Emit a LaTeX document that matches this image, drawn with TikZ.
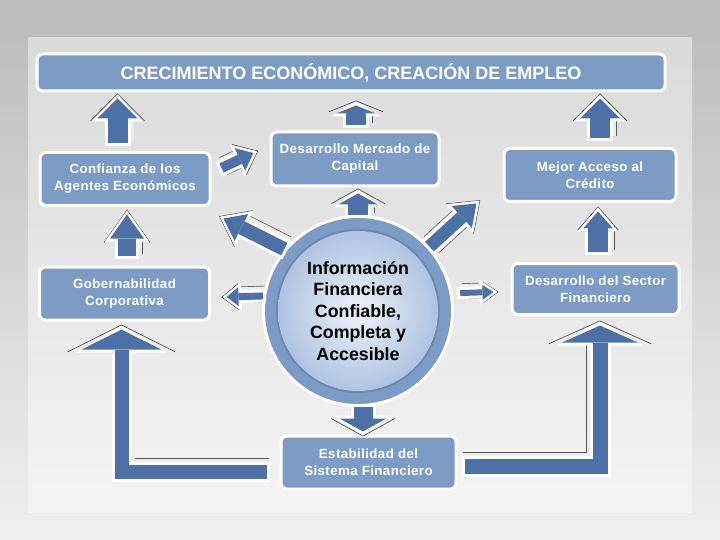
\documentclass[tikz,border=0pt]{standalone}
\usepackage{fontspec}
\setmainfont{Liberation Sans}
\newfontfamily\boxfont[LetterSpace=3]{Liberation Sans}
\usepackage{tikz}
\usetikzlibrary{arrows.meta, positioning, calc}

\definecolor{boxblue}{HTML}{7C9CC6}
\definecolor{arrowblue}{HTML}{4D71A6}
\definecolor{ringblue}{HTML}{7E9BC5}
\definecolor{ringdark}{HTML}{6A89B6}
\definecolor{innerlight}{HTML}{EEF3FA}
\definecolor{innerdark}{HTML}{AFC3E0}
\definecolor{shadowgray}{HTML}{555555}
\definecolor{panel}{HTML}{ECECEC}
\definecolor{bgtop}{HTML}{BBBBBB}
\definecolor{bgbot}{HTML}{F0F0F0}
\definecolor{paneltop}{HTML}{DADADA}
\definecolor{panelbot}{HTML}{F4F4F4}

\def\blkdx{2pt}

\begin{document}
\begin{tikzpicture}[x=1pt, y=-1pt,
  box/.style={draw=white, line width=3pt, fill=boxblue, rounded corners=6pt,
    text=white, align=center, inner sep=0pt,
    font=\boxfont\fontsize{13.3}{17}\selectfont\bfseries},
  flipshadow/.style={/utils/exec={\def\blkdx{-2pt}}},
  blk/.style n args={3}{% shaft, head width, head length
    /utils/exec={\pgfmathsetmacro\blkw{#1+6}\pgfmathsetmacro\blkgap{#1+8}%
      \pgfmathsetmacro\blkhw{#2+10}\pgfmathsetmacro\blkhl{#3+7}%
      \pgfmathsetmacro\blksw{1.35*#2}\pgfmathsetmacro\blksl{1.35*#3}},
    preaction={draw=shadowgray, line width=0.7pt, double=panel,
      double distance=\blkgap pt, -, shorten >=#3pt,
      transform canvas={shift={(\blkdx,2pt)}}},
    preaction={draw=shadowgray, line width=0.7pt,
      -{Straight Barb[width=\blksw pt, length=\blksl pt, line width=0.7pt]},
      shorten >=-5pt},
    preaction={draw=white, line width=\blkw pt,
      -{Triangle[width=\blkhw pt, length=\blkhl pt, line width=0pt]},
      shorten >=-4pt, shorten <=-3pt},
    draw=arrowblue, line width=#1pt,
    -{Triangle[width=#2pt, length=#3pt, line width=0pt]}}]
  \useasboundingbox (0,0) rectangle (720,540);
  % Background
  \shade[top color=bgtop, bottom color=bgbot] (0,0) rectangle (720,540);
  \shade[top color=paneltop, bottom color=panelbot] (28,38) rectangle (692,512);

  % Boxes
  \node[box, minimum width=628pt, minimum height=37pt,
    font=\fontsize{18}{20}\selectfont\bfseries] (top) at (351,72.5)
    {CRECIMIENTO ECONÓMICO, CREACIÓN DE EMPLEO};
  \node[box, minimum width=170pt, minimum height=53pt] (conf) at (125,179)
    {Confianza de los\\Agentes Económicos};
  \node[box, minimum width=170pt, minimum height=53pt] (gob) at (124.5,293.5)
    {Gobernabilidad\\Corporativa};
  \node[box, minimum width=168pt, minimum height=54pt] (merc) at (355,159)
    {Desarrollo Mercado de\\Capital};
  \node[box, minimum width=172pt, minimum height=53pt] (mejor) at (590,175)
    {Mejor Acceso al\\Crédito};
  \node[box, minimum width=167pt, minimum height=51pt] (sector) at (595.5,289)
    {Desarrollo del Sector\\Financiero};
  \node[box, minimum width=175pt, minimum height=53pt] (estab) at (368.5,462.5)
    {Estabilidad del\\Sistema Financiero};

  % Central circle
  \node[circle, fill=white, minimum size=192pt, inner sep=0pt, align=center,
    font=\fontsize{17.8}{21.5}\selectfont\bfseries,
    path picture={
      \fill[ringblue] (path picture bounding box.center) circle (93);
      \fill[ringdark] (path picture bounding box.center) circle (82);
      \shade[inner color=innerlight, outer color=innerdark]
        (path picture bounding box.center) circle (80);
    }] (circ) at (358,311)
    {Información\\Financiera\\Confiable,\\Completa y\\Accesible};

  % Arrows to the top
  \draw[blk={20}{40}{20}] ($(conf.north)+(-7.5,-7.5)$) -- ($(conf.north |- top.south)+(-7.5,6)$);
  \draw[blk={20}{40}{8}] ($(merc.north)+(1,-5)$) -- ($(merc.north |- top.south)+(1,13)$);
  \draw[blk={20}{40}{20}] ($(mejor.north)+(10,-8.5)$) -- ($(mejor.north |- top.south)+(10,6)$);
  % Left column
  \draw[blk={18}{34}{24}] ($(gob.north)+(2.5,-10)$) -- ($(conf.south)+(2,7.5)$);
  \draw[blk={10}{25}{15}] ($(conf.east)+(10,-11)$) -- ($(merc.west)+(-16,-6)$);
  % Out of the circle
  \draw[blk={14}{30}{20}] (circ.140) -- ($(conf.south east)+(12,11.5)$);
  \draw[blk={7}{19}{12}] (circ.171) -- ($(gob.east)+(15.5,3.5)$);
  \draw[blk={20}{40}{11}] (circ.north) -- ($(merc.south)+(3,6)$);
  \draw[blk={13}{30}{20}] (circ.42) -- ($(mejor.south west)+(-26,0.5)$);
  \draw[blk={6}{15}{11}] ($(circ.east)+(6,-18)$) -- ($(sector.west)+(-17,3)$);
  \draw[blk={19}{47}{13}] ($(circ.south)+(5,0)$) -- ($(estab.north)+(-5.5,-3)$);
  % Right column
  \draw[blk={20}{30}{17}] ($(sector.north)+(2.5,-10.5)$) -- ($(mejor.south)+(8,8.5)$);
  % Feedback arrows
  \draw[blk={14}{80}{20}] ($(estab.west)+(-13,9)$) -| ($(gob.south)+(-3,8)$);
  \draw[flipshadow, blk={15}{76}{17}] ($(estab.east)+(7,4)$) -| ($(sector.south)+(4.5,9.5)$);
\end{tikzpicture}
\end{document}
